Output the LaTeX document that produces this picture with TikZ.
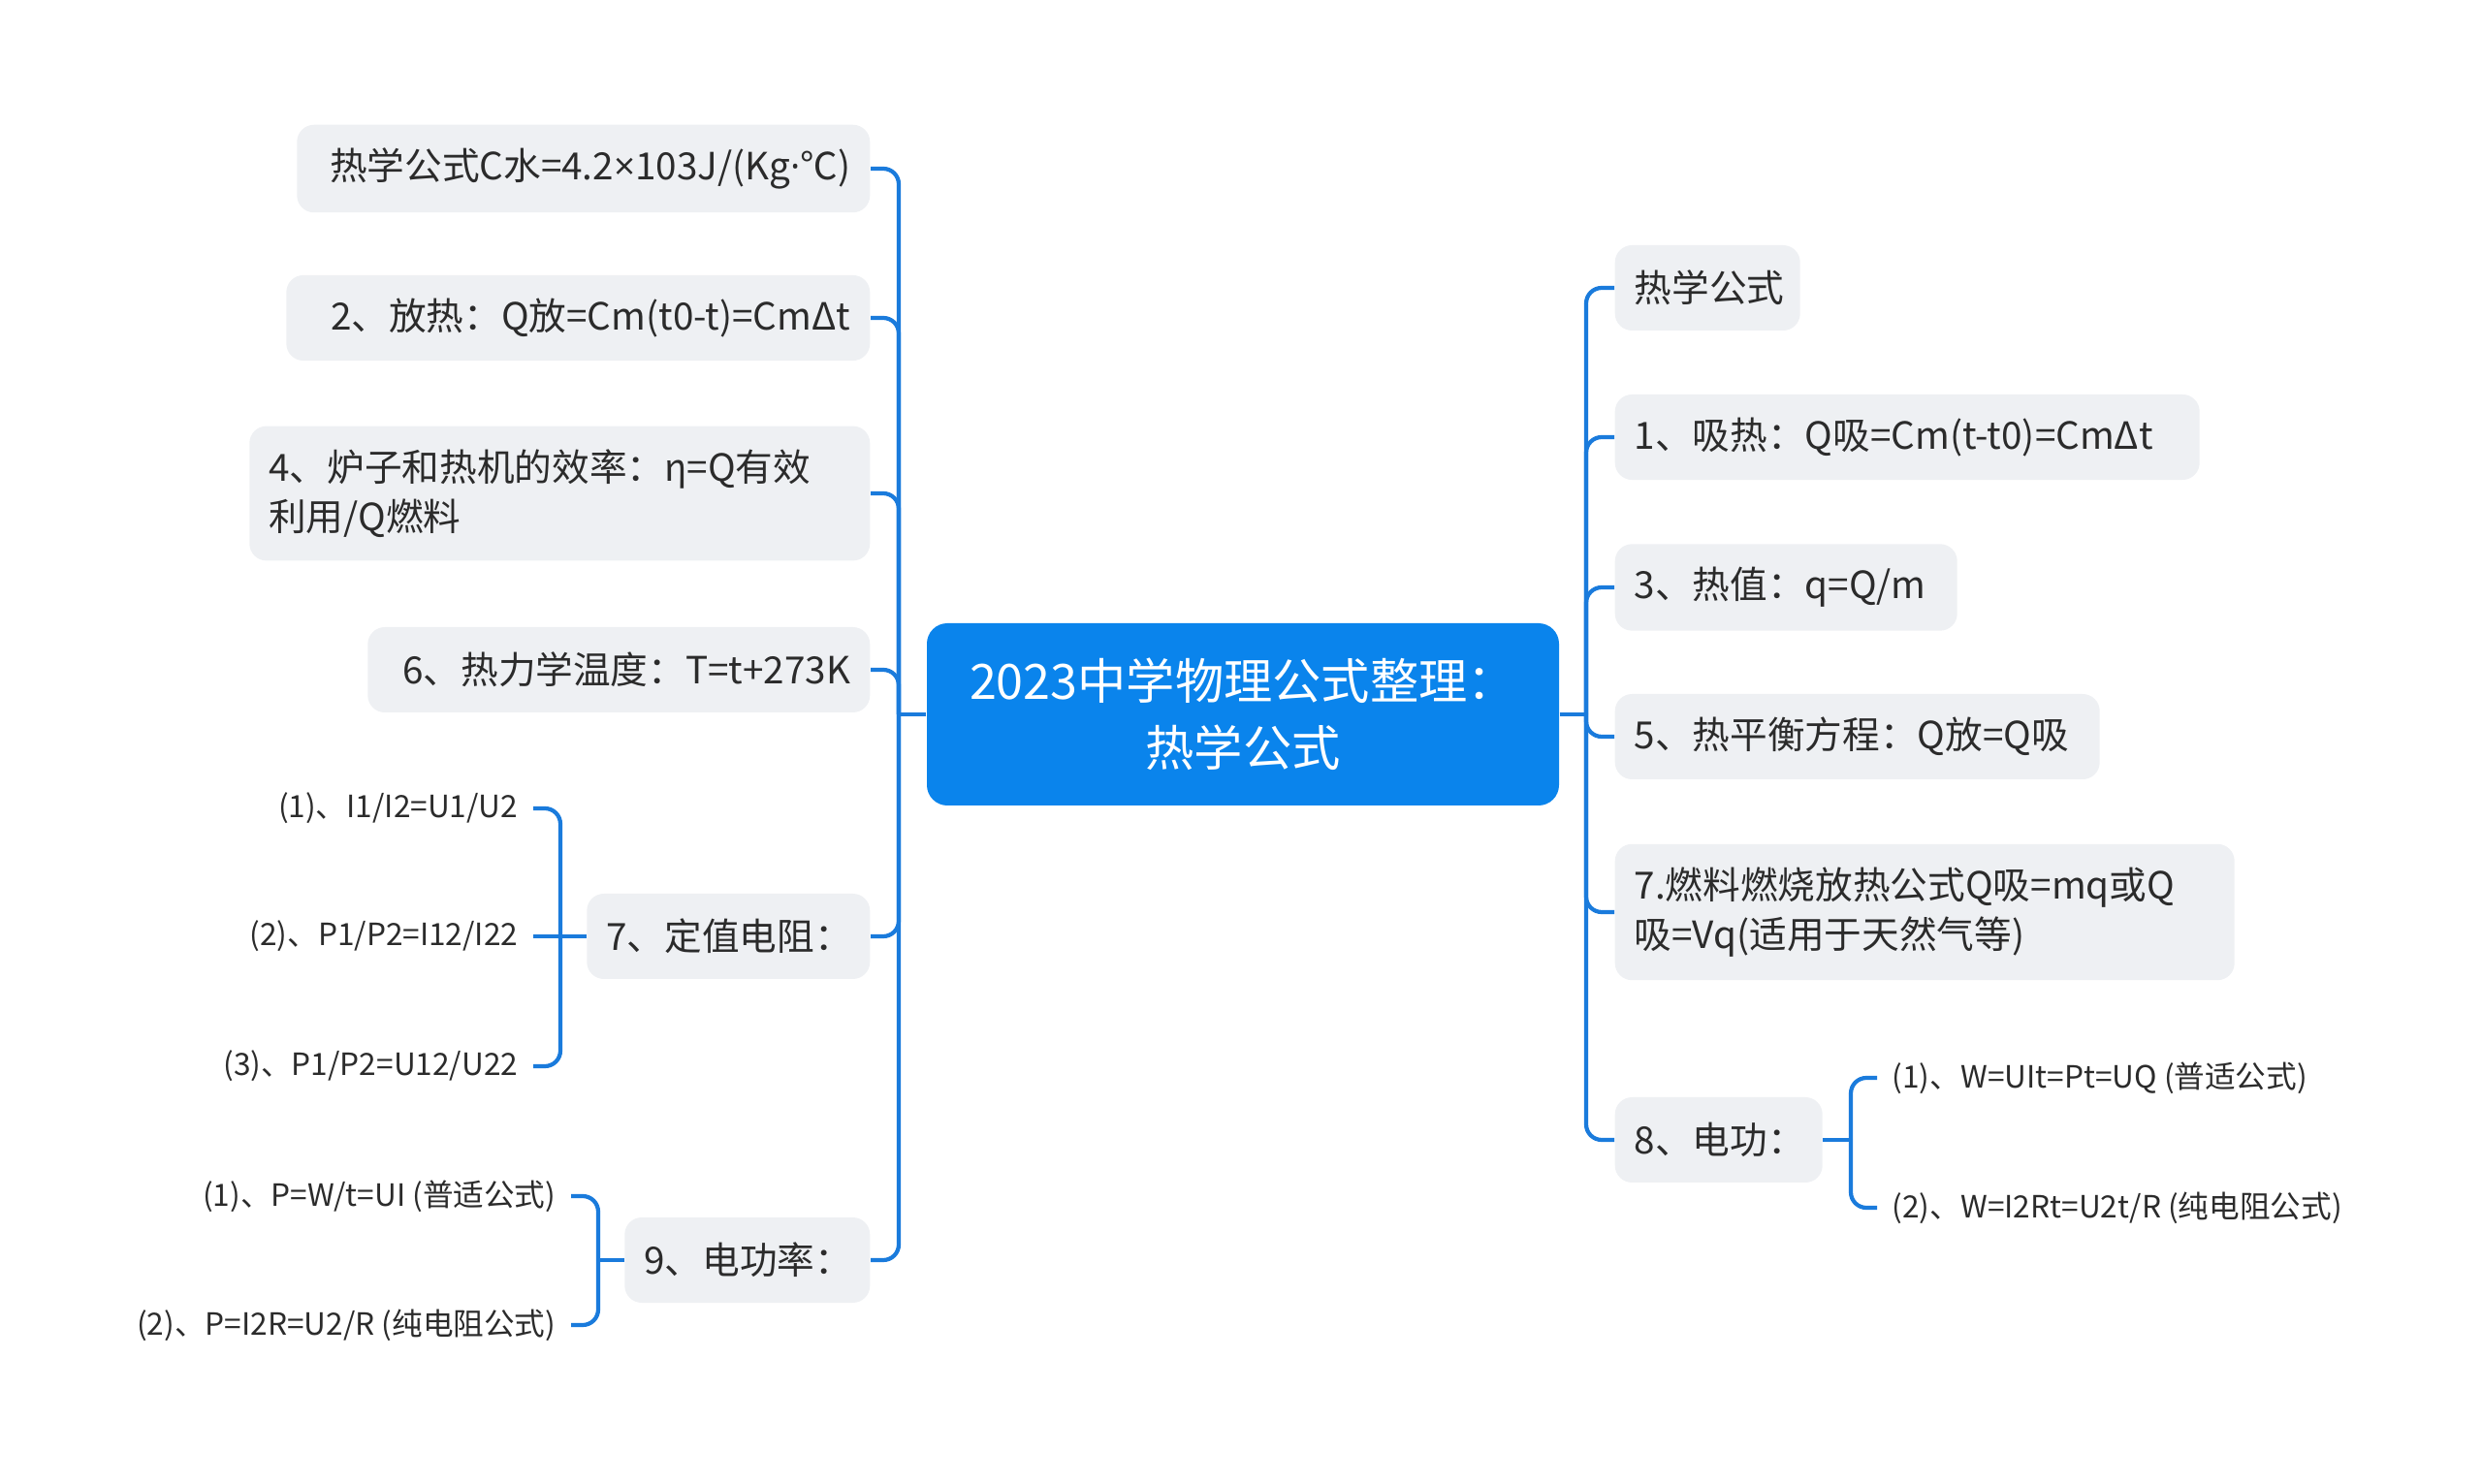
\documentclass[tikz,border=0pt]{standalone}
\usepackage{fontspec}
\setmainfont{Noto Sans CJK SC}
\newfontfamily\narrowsym{Open Sans}
\usepackage{xcolor}
\usepackage{tikz}
\usetikzlibrary{positioning}

\definecolor{rootblue}{HTML}{0A84EC}
\definecolor{linkblue}{HTML}{1A7BDC}
\definecolor{boxgray}{HTML}{EEF0F3}
\definecolor{inkgray}{HTML}{2B2B2B}

\begin{document}
\begin{tikzpicture}[
  root/.style={fill=rootblue, rounded corners=6pt, minimum width=6.52cm, minimum height=1.88cm, text=white, font=\fontsize{14.3}{19.5}\selectfont, align=center},
  topic/.style={fill=boxgray, rounded corners=5pt, minimum height=0.88cm, inner xsep=0.2cm, inner ysep=0.24cm, text=inkgray, font=\fontsize{11}{14.5}\selectfont},
  ltopic/.style={topic, anchor=east, align=right},
  rtopic/.style={topic, anchor=west, align=left},
  leaf/.style={inner xsep=0.15cm, inner ysep=2pt, text=inkgray, font=\fontsize{9}{11}\selectfont},
  link/.style={draw=linkblue, line width=1.2pt, rounded corners=0.16cm}
]
  \useasboundingbox (0,0) rectangle (25.6,-15.31);

  % Centre
  \node[root] (root) at (12.82,-7.37) {2023中学物理公式整理：\\热学公式};
  \coordinate (lj) at (9.27,-7.37);
  \coordinate (rj) at (16.36,-7.37);

  % Left side
  \node[ltopic, text width=5.51cm] (cwater) at (8.98,-1.74) {热学公式C水=4.2{\narrowsym ×}103J/(Kg{\narrowsym ·}℃)};
  \node[ltopic, text width=5.62cm] (release) at (8.98,-3.28) {2、放热：Q放=Cm(t0-t)=CmΔt};
  \node[ltopic, text width=6.0cm, align=left] (effic) at (8.98,-5.09) {4、炉子和热机的效率：η=Q有效\\利用/Q燃料};
  \node[ltopic, text width=4.78cm] (thermo) at (8.98,-6.91) {6、热力学温度：T=t+273K};
  \node[ltopic, text width=2.52cm] (fixedr) at (8.98,-9.66) {7、定值电阻：};
  \node[ltopic, text width=2.13cm] (epower) at (8.98,-13.00) {9、电功率：};

  % Right side
  \node[rtopic, text width=1.51cm] (heat) at (16.65,-2.97) {热学公式};
  \node[rtopic, text width=5.63cm] (absorb) at (16.65,-4.51) {1、吸热：Q吸=Cm(t-t0)=CmΔt};
  \node[rtopic, text width=3.13cm] (hvalue) at (16.65,-6.06) {3、热值：q=Q/m};
  \node[rtopic, text width=4.60cm] (balance) at (16.65,-7.60) {5、热平衡方程：Q放=Q吸};
  \node[rtopic, text width=5.99cm] (fuel) at (16.65,-9.41) {7.燃料燃烧放热公式Q吸=mq或Q\\吸=Vq(适用于天然气等)};
  \node[rtopic, text width=1.74cm] (ework) at (16.65,-11.76) {8、电功：};

  % Leaves
  \node[leaf, anchor=east] (fr1) at (5.50,-8.34) {(1)、I1/I2=U1/U2};
  \node[leaf, anchor=east] (fr2) at (5.50,-9.66) {(2)、P1/P2=I12/I22};
  \node[leaf, anchor=east] (fr3) at (5.50,-11.00) {(3)、P1/P2=U12/U22};
  \node[leaf, anchor=east] (ep1) at (5.89,-12.34) {(1)、P=W/t=UI (普适公式)};
  \node[leaf, anchor=east] (ep2) at (5.89,-13.67) {(2)、P=I2R=U2/R (纯电阻公式)};
  \node[leaf, anchor=west] (ew1) at (19.36,-11.12) {(1)、W=UIt=Pt=UQ (普适公式)};
  \node[leaf, anchor=west] (ew2) at (19.36,-12.46) {(2)、W=I2Rt=U2t/R (纯电阻公式)};
  \coordinate (frj) at (5.78,-9.66);
  \coordinate (epj) at (6.17,-13.00);
  \coordinate (ewj) at (19.09,-11.76);

  % Links
  \draw[link] (root.west) -- (lj);
  \draw[link] (root.east) -- (rj);
  \draw[link] (lj) |- (cwater.east);
  \draw[link] (lj) |- (release.east);
  \draw[link] (lj) |- (effic.east);
  \draw[link] (lj) |- (thermo.east);
  \draw[link] (lj) |- (fixedr.east);
  \draw[link] (lj) |- (epower.east);
  \draw[link] (rj) |- (heat.west);
  \draw[link] (rj) |- (absorb.west);
  \draw[link] (rj) |- (hvalue.west);
  \draw[link] (rj) |- (balance.west);
  \draw[link] (rj) |- (fuel.west);
  \draw[link] (rj) |- (ework.west);
  \draw[link] (fixedr.west) -- (frj);
  \draw[link] (frj) |- (fr1.east);
  \draw[link] (frj) -- (fr2.east);
  \draw[link] (frj) |- (fr3.east);
  \draw[link] (epower.west) -- (epj);
  \draw[link] (epj) |- (ep1.east);
  \draw[link] (epj) |- (ep2.east);
  \draw[link] (ework.east) -- (ewj);
  \draw[link] (ewj) |- (ew1.west);
  \draw[link] (ewj) |- (ew2.west);
\end{tikzpicture}
\end{document}
